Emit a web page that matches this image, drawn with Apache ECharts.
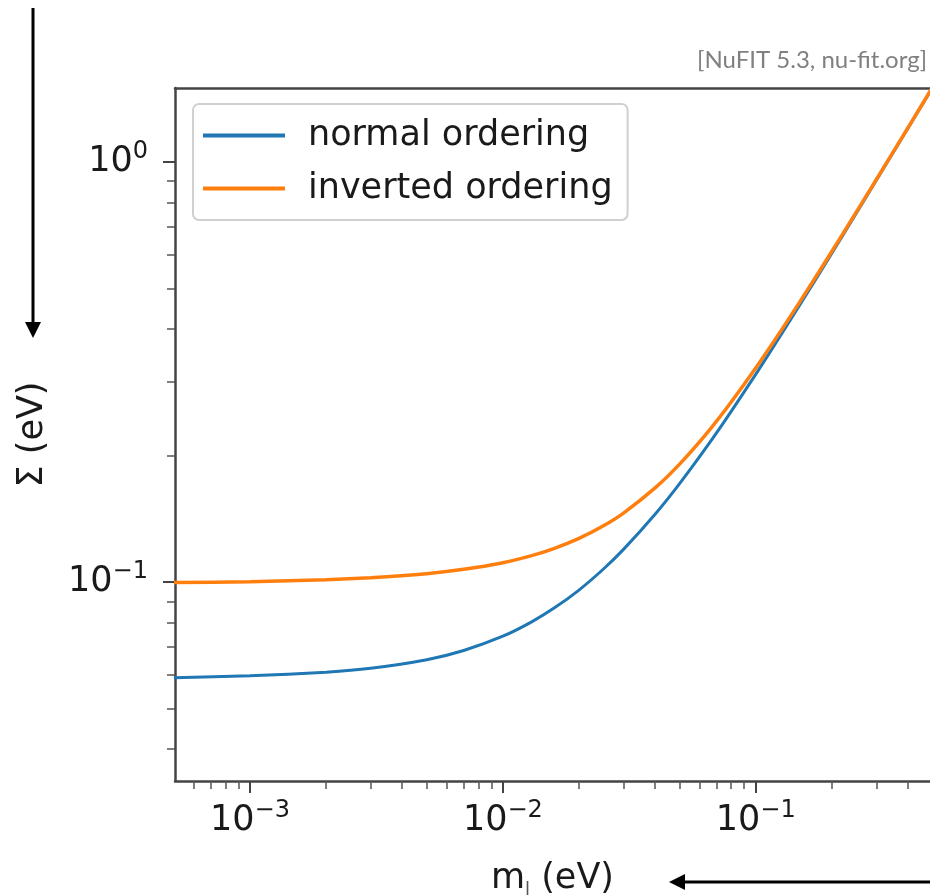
<!DOCTYPE html>
<html>
<head>
<meta charset="utf-8">
<script src="https://cdn.jsdelivr.net/npm/echarts@6/dist/echarts.min.js"></script>
<style>
  html, body { margin: 0; padding: 0; background: #fff; }
  #chart { width: 930px; height: 895px; }
</style>
</head>
<body>
<div id="chart"></div>
<script>
// 数据：最轻中微子质量 m_l (eV) 与质量和 Σ (eV)
var mLightest = [0.0005, 0.001, 0.002, 0.003, 0.005, 0.007, 0.01, 0.013, 0.016, 0.02, 0.025, 0.03,
                 0.04, 0.05, 0.065, 0.08, 0.1, 0.13, 0.17, 0.22, 0.3, 0.4, 0.5];
var sumNormal = [0.0592, 0.0598, 0.0610, 0.0623, 0.0653, 0.0687, 0.0743, 0.0804, 0.0868, 0.0957, 0.1074, 0.1196,
                 0.1450, 0.1715, 0.2126, 0.2549, 0.3122, 0.3996, 0.5175, 0.6658, 0.9043, 1.2032, 1.5026];
var sumInverted = [0.0997, 0.1002, 0.1013, 0.1024, 0.1047, 0.1072, 0.1112, 0.1156, 0.1203, 0.1270, 0.1361, 0.1459,
                   0.1675, 0.1909, 0.2285, 0.2683, 0.3233, 0.4083, 0.5242, 0.6711, 0.9082, 1.2061, 1.5049];
var seriesNames = ['normal ordering', 'inverted ordering'];

// 刻度
var xMajor = [0.001, 0.01, 0.1];
var xMinor = [0.0006, 0.0007, 0.0008, 0.0009, 0.002, 0.003, 0.004, 0.005, 0.006, 0.007, 0.008, 0.009,
              0.02, 0.03, 0.04, 0.05, 0.06, 0.07, 0.08, 0.09, 0.2, 0.3, 0.4];
var yMajor = [0.1, 1];
var yMinor = [0.04, 0.05, 0.06, 0.07, 0.08, 0.09, 0.2, 0.3, 0.4, 0.5, 0.6, 0.7, 0.8, 0.9];

var xMin = 0.000505, xMax = 0.489;
var yMin = 0.0336, yMax = 1.5;

(function () {
    var chart = echarts.init(document.getElementById('chart'));
    var font = 'DejaVu Sans';
    var axisColor = '#444';
    var textColor = '#1a1a1a';

    // 10^n 形式的标签
    function powLabel(v) {
        var e = Math.round(Math.log10(v));
        return '{b|10}{s|' + (e < 0 ? '\u2212' + (-e) : e) + '}';
    }
    var powRich = {
        b: { fontSize: 35, fontFamily: font, color: textColor, lineHeight: 44, verticalAlign: 'middle' },
        s: { fontSize: 24, fontFamily: font, color: textColor, lineHeight: 22, verticalAlign: 'top' }
    };

    function toPairs(ys) {
        return mLightest.map(function (x, i) { return [x, ys[i]]; });
    }

    var option = {
        animation: false,
        backgroundColor: '#fff',
        grid: { left: 175, right: 0, top: 88, bottom: 114, outerBoundsMode: 'none' },
        legend: {
            orient: 'vertical',
            left: 193, top: 104,
            padding: [14, 15, 14, 10],
            itemGap: 18,
            itemWidth: 82, itemHeight: 4,
            icon: 'rect',
            backgroundColor: '#fff',
            borderColor: '#d0d0d0', borderWidth: 2, borderRadius: 6,
            textStyle: { fontFamily: font, fontSize: 35, lineHeight: 30, color: textColor, padding: [0, 0, 0, 18] },
            data: seriesNames
        },
        xAxis: [
            {
                type: 'log', min: xMin, max: xMax, position: 'bottom',
                name: '{m|m}{l|l}{t| (eV)}', nameLocation: 'middle', nameGap: 78,
                nameTextStyle: {
                    rich: {
                        m: { fontSize: 35, fontFamily: font, color: textColor, lineHeight: 40 },
                        l: { fontSize: 18, fontFamily: font, color: '#555', lineHeight: 18, verticalAlign: 'bottom' },
                        t: { fontSize: 35, fontFamily: font, color: textColor, lineHeight: 40 }
                    }
                },
                axisLine: { show: true, onZero: false, lineStyle: { color: axisColor, width: 2.5 } },
                axisTick: { show: true, customValues: xMajor, length: 12, lineStyle: { color: axisColor, width: 2 } },
                axisLabel: { customValues: xMajor, formatter: powLabel, rich: powRich, margin: 18 },
                splitLine: { show: false }
            },
            {
                type: 'log', min: xMin, max: xMax, position: 'bottom',
                axisLine: { show: false },
                axisTick: { show: true, customValues: xMinor, length: 8, lineStyle: { color: '#555', width: 1.5 } },
                axisLabel: { show: false },
                splitLine: { show: false }
            },
            {
                type: 'log', min: xMin, max: xMax, position: 'top',
                axisLine: { show: true, onZero: false, lineStyle: { color: axisColor, width: 2.5 } },
                axisTick: { show: false },
                axisLabel: { show: false },
                splitLine: { show: false }
            }
        ],
        yAxis: [
            {
                type: 'log', min: yMin, max: yMax, position: 'left',
                name: '\u03a3 (eV)', nameLocation: 'middle', nameGap: 125, nameRotate: 90,
                nameTextStyle: { fontFamily: font, fontSize: 35, color: textColor },
                axisLine: { show: true, onZero: false, lineStyle: { color: axisColor, width: 2.5 } },
                axisTick: { show: true, customValues: yMajor, length: 12, lineStyle: { color: axisColor, width: 2 } },
                axisLabel: { customValues: yMajor, formatter: powLabel, rich: powRich, margin: 27 },
                splitLine: { show: false }
            },
            {
                type: 'log', min: yMin, max: yMax, position: 'left',
                axisLine: { show: false },
                axisTick: { show: true, customValues: yMinor, length: 8, lineStyle: { color: '#555', width: 1.5 } },
                axisLabel: { show: false },
                splitLine: { show: false }
            }
        ],
        series: [
            {
                name: seriesNames[0], type: 'line', smooth: 0.2, showSymbol: false,
                xAxisIndex: 0, yAxisIndex: 0,
                data: toPairs(sumNormal),
                itemStyle: { color: '#1f77b4' },
                lineStyle: { color: '#1f77b4', width: 3 }
            },
            {
                name: seriesNames[1], type: 'line', smooth: 0.2, showSymbol: false,
                xAxisIndex: 0, yAxisIndex: 0,
                data: toPairs(sumInverted),
                itemStyle: { color: '#ff7f0e' },
                lineStyle: { color: '#ff7f0e', width: 3.5 }
            }
        ],
        graphic: [
            // 右上角出处
            {
                type: 'text', right: 3, top: 48,
                style: { text: '[NuFIT 5.3, nu-fit.org]', font: '24px Lato', fill: '#808080' }
            },
            // 竖箭头
            { type: 'line', shape: { x1: 33, y1: 8, x2: 33, y2: 324 }, style: { stroke: '#000', lineWidth: 3 } },
            { type: 'polygon', shape: { points: [[25, 322], [41, 322], [33, 338]] }, style: { fill: '#000' } },
            // 横箭头
            { type: 'line', shape: { x1: 930, y1: 882, x2: 683, y2: 882 }, style: { stroke: '#000', lineWidth: 3 } },
            { type: 'polygon', shape: { points: [[685, 874], [685, 890], [669, 882]] }, style: { fill: '#000' } }
        ]
    };
    chart.setOption(option);
})();
</script>
</body>
</html>
